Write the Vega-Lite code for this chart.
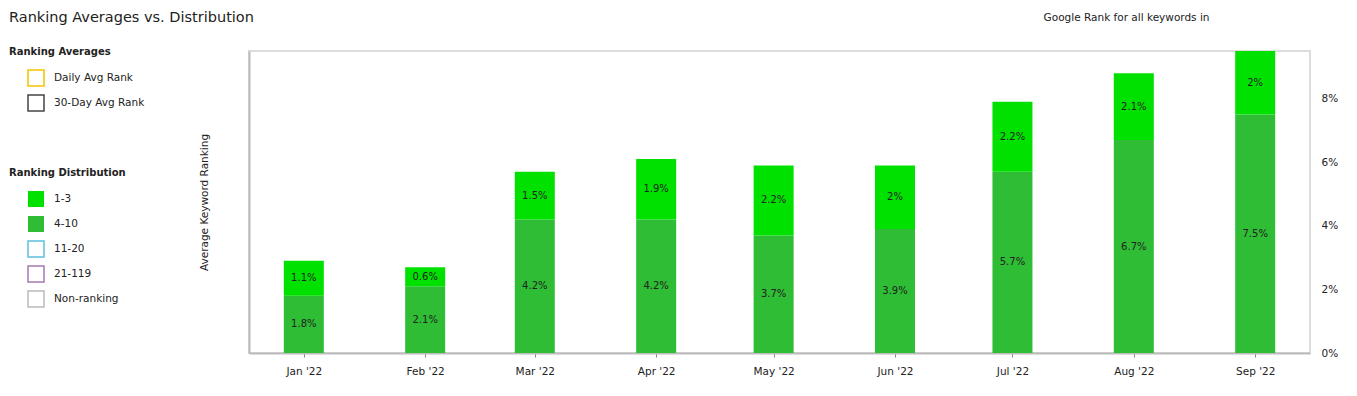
{
  "$schema": "https://vega.github.io/schema/vega-lite/v6.json",
  "width": 1061,
  "height": 302,
  "autosize": {"type": "none"},
  "padding": {"left": 249, "top": 51, "right": 47, "bottom": 43},
  "background": "white",
  "title": {
    "text": "Ranking Averages vs. Distribution",
    "anchor": "start",
    "frame": "group",
    "baseline": "bottom",
    "dx": -240,
    "dy": 27,
    "offset": 0,
    "font": "DejaVu Sans",
    "fontSize": 14.5,
    "fontWeight": "normal",
    "color": "#222222"
  },
  "data": {
    "values": [
      {"month": "2022-01-01", "range": "4-10", "value": 0.018},
      {"month": "2022-01-01", "range": "1-3", "value": 0.011},
      {"month": "2022-02-01", "range": "4-10", "value": 0.021},
      {"month": "2022-02-01", "range": "1-3", "value": 0.006},
      {"month": "2022-03-01", "range": "4-10", "value": 0.042},
      {"month": "2022-03-01", "range": "1-3", "value": 0.015},
      {"month": "2022-04-01", "range": "4-10", "value": 0.042},
      {"month": "2022-04-01", "range": "1-3", "value": 0.019},
      {"month": "2022-05-01", "range": "4-10", "value": 0.037},
      {"month": "2022-05-01", "range": "1-3", "value": 0.022},
      {"month": "2022-06-01", "range": "4-10", "value": 0.039},
      {"month": "2022-06-01", "range": "1-3", "value": 0.020},
      {"month": "2022-07-01", "range": "4-10", "value": 0.057},
      {"month": "2022-07-01", "range": "1-3", "value": 0.022},
      {"month": "2022-08-01", "range": "4-10", "value": 0.067},
      {"month": "2022-08-01", "range": "1-3", "value": 0.021},
      {"month": "2022-09-01", "range": "4-10", "value": 0.075},
      {"month": "2022-09-01", "range": "1-3", "value": 0.020}
    ]
  },
  "layer": [
    {
      "mark": {"type": "bar", "size": 40},
      "encoding": {
        "x": {
          "field": "month",
          "type": "temporal",
          "scale": {"type": "utc", "padding": 0, "domain": [{"year": 2021, "month": 12, "date": 18, "utc": true}, {"year": 2022, "month": 9, "date": 15, "utc": true}]},
          "axis": {
            "orient": "bottom",
            "title": null,
            "format": "%b '%y",
            "tickCount": {"interval": "month", "step": 1},
            "grid": false,
            "labelFlush": false,
            "domainColor": "#bbbbbb",
            "domainWidth": 2,
            "tickColor": "#888888",
            "tickSize": 4,
            "labelPadding": 9,
            "labelFontSize": 10.5,
            "labelColor": "#222222"
          }
        },
        "y": {
          "field": "value",
          "type": "quantitative",
          "stack": "zero",
          "scale": {"domain": [0, 0.095], "nice": false, "padding": 0},
          "axis": {
            "orient": "right",
            "title": null,
            "format": ".0%",
            "values": [0, 0.02, 0.04, 0.06, 0.08],
            "ticks": false,
            "domain": false,
            "grid": false,
            "labelPadding": 11,
            "labelFontSize": 10.5,
            "labelColor": "#222222"
          }
        },
        "fill": {
          "field": "range",
          "type": "nominal",
          "scale": {
            "domain": ["1-3", "4-10", "11-20", "21-119", "Non-ranking"],
            "range": ["#00e100", "#2ebd34", "#ffffff", "#ffffff", "#ffffff"]
          },
          "legend": {
            "title": "Ranking Distribution",
            "orient": "none",
            "direction": "vertical",
            "legendX": -240,
            "legendY": 117,
            "padding": 0,
            "symbolType": "square",
            "symbolSize": 256,
            "symbolOffset": 18,
            "labelOffset": 9,
            "rowPadding": 3,
            "titlePadding": 12,
            "titleFontSize": 10,
            "titleFontWeight": "bold",
            "titleColor": "#222222",
            "labelFontSize": 10.5,
            "labelColor": "#222222",
            "encode": {
              "symbols": {
                "update": {
                  "fill": {"signal": "datum.value === '1-3' ? '#00e100' : datum.value === '4-10' ? '#2ebd34' : '#ffffff'"},
                  "stroke": {"signal": "datum.value === '11-20' ? '#5bc0de' : datum.value === '21-119' ? '#a678b3' : datum.value === 'Non-ranking' ? '#bbbbbb' : 'transparent'"},
                  "strokeWidth": {"value": 1.5},
                  "strokeOpacity": {"value": 1},
                  "fillOpacity": {"value": 1},
                  "opacity": {"value": 1}
                }
              }
            }
          }
        },
        "order": {"field": "range", "sort": "descending"}
      }
    },
    {
      "mark": {"type": "text", "fontSize": 10, "color": "#222222"},
      "encoding": {
        "x": {"field": "month", "type": "temporal", "axis": null},
        "y": {"field": "value", "type": "quantitative", "stack": "zero", "bandPosition": 0.5, "axis": null},
        "detail": {"field": "range", "type": "nominal"},
        "order": {"field": "range", "sort": "descending"},
        "text": {"field": "value", "type": "quantitative", "format": ".1~%"}
      }
    },
    {
      "mark": {"type": "point", "opacity": 0, "filled": false},
      "encoding": {
        "x": {
          "field": "month",
          "type": "temporal",
          "axis": {
            "orient": "top",
            "title": "Google Rank for all keywords in",
            "labels": false,
            "ticks": false,
            "domain": false,
            "grid": false,
            "titleX": 960,
            "titleY": -34,
            "titleAlign": "right",
            "titleAnchor": "end",
            "titleBaseline": "middle",
            "titleFontWeight": "normal",
            "titleFontSize": 10.5,
            "titleColor": "#222222"
          }
        },
        "y": {
          "field": "value",
          "type": "quantitative",
          "stack": null,
          "axis": {
            "orient": "left",
            "title": "Average Keyword Ranking",
            "labels": false,
            "ticks": false,
            "grid": false,
            "domainColor": "#bbbbbb",
            "domainWidth": 2,
            "titlePadding": 40,
            "titleFontSize": 10.5,
            "titleFontWeight": "normal",
            "titleColor": "#222222"
          }
        },
        "stroke": {
          "datum": "Daily Avg Rank",
          "type": "nominal",
          "scale": {"domain": ["Daily Avg Rank", "30-Day Avg Rank"], "range": ["#f5c400", "#444444"]},
          "legend": {
            "title": "Ranking Averages",
            "orient": "none",
            "direction": "vertical",
            "legendX": -240,
            "legendY": -4,
            "padding": 0,
            "symbolType": "square",
            "symbolSize": 256,
            "symbolOffset": 18,
            "labelOffset": 9,
            "rowPadding": 3,
            "titlePadding": 12,
            "titleFontSize": 10,
            "titleFontWeight": "bold",
            "titleColor": "#222222",
            "labelFontSize": 10.5,
            "labelColor": "#222222",
            "encode": {
              "symbols": {
                "update": {
                  "fill": {"value": "#ffffff"},
                  "strokeWidth": {"value": 1.5},
                  "strokeOpacity": {"value": 1},
                  "opacity": {"value": 1}
                }
              }
            }
          }
        }
      }
    }
  ],
  "resolve": {"axis": {"x": "independent", "y": "independent"}},
  "config": {
    "font": "DejaVu Sans",
    "view": {"stroke": "#dddddd", "strokeWidth": 2},
    "axis": {"labelFont": "DejaVu Sans", "titleFont": "DejaVu Sans"},
    "legend": {"labelFont": "DejaVu Sans", "titleFont": "DejaVu Sans"}
  }
}
